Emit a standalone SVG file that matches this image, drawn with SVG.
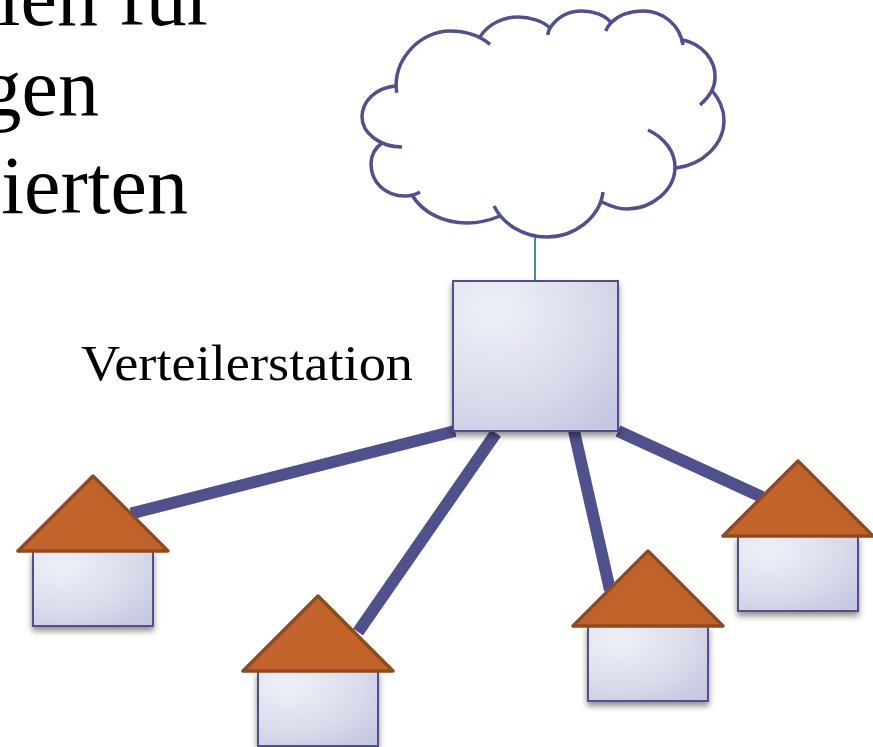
<svg xmlns="http://www.w3.org/2000/svg" width="873" height="747" viewBox="0 0 873 747">
<style>
.big{font-family:"Liberation Serif","Times New Roman",serif;font-size:82px;fill:#000;text-anchor:end}
.lbl{font-family:"Liberation Serif","Times New Roman",serif;font-size:50px;fill:#000}
.box{fill:url(#g);stroke:#50508c;stroke-width:2;filter:url(#s)}
.roof{fill:#c1632a;stroke:#8e4a20;stroke-width:3.5;stroke-linejoin:round}
.cloud{fill:none;stroke:#50508c;stroke-width:3.5}
.link{stroke:#50508c;stroke-width:12;fill:none}
</style>
<defs>
<radialGradient id="g" cx="0.25" cy="0.2" r="1">
<stop offset="0" stop-color="#eef0f8"/>
<stop offset="0.55" stop-color="#dcddec"/>
<stop offset="1" stop-color="#c6c7e1"/>
</radialGradient>
<filter id="s" x="-10%" y="-10%" width="125%" height="125%">
<feDropShadow dx="0" dy="4" stdDeviation="3" flood-color="#000" flood-opacity="0.45"/>
</filter>
</defs>
<rect width="873" height="747" fill="#fff"/>
<text class="big" x="214" y="25">len für</text>
<text class="big" x="99" y="115">gen</text>
<text class="big" x="188" y="213">ierten</text>
<g id="connectors">
<line x1="535" y1="236" x2="535" y2="281" stroke="#4a8f90" stroke-width="2"/>
<line class="link" x1="455" y1="431" x2="131" y2="513.5"/>
<line class="link" x1="496" y1="433" x2="358" y2="632"/>
<line class="link" x1="574" y1="431" x2="610" y2="590"/>
<line class="link" x1="618" y1="431" x2="762" y2="497"/>
</g>
<g id="cloud">
<path class="cloud" d="M396.7 92.7C392 60 420 31 450 31C465 31 480 36 490 44.3"/>
<path class="cloud" d="M480 36.7C489 23 504 17 518 17C530 17 543 21 550 28C549 30 548 32 547.700 35"/>
<path class="cloud" d="M550 28C558 16 570 11 582 11C593 11 605 15 611 22.700C609 25 607 28 605.700 31"/>
<path class="cloud" d="M611 22.700C620 14 632 11 643 11C663 11 680 25 683 45"/>
<path class="cloud" d="M683 40C702 44 716 60 715 78C715 88 708 98 700 105"/>
<path class="cloud" d="M711.700 90C720 100 724 110 724 120C724 145 702 165 676 168"/>
<path class="cloud" d="M648 130C665 138 675 152 675 167C675 190 652 209 627 209C618 209 610 206 602 202"/>
<path class="cloud" d="M603 192C600 217 575 237 547 237C523 237 503 224 494 206"/>
<path class="cloud" d="M500 216C488 221 478 223 467 223C443 223 422 212 412 195"/>
<path class="cloud" d="M420 192C415 195 408 196 405 196C385 196 371 182 371 164C371 156 375 148 382 143"/>
<path class="cloud" d="M402 147C380 147 362 133 362 117C362 101 376 88 395 86"/>
</g>
<g id="station">
<rect class="box" x="453" y="281" width="165" height="150"/>
<text class="lbl" x="81" y="380" textLength="332" lengthAdjust="spacingAndGlyphs">Verteilerstation</text>
</g>
<g id="house1">
<rect class="box" x="33" y="551" width="120" height="75"/>
<path class="roof" d="M93 476L18 551H168Z"/>
</g>
<g id="house2">
<rect class="box" x="258" y="671" width="120" height="75"/>
<path class="roof" d="M318 596L243 671H393Z"/>
</g>
<g id="house3">
<rect class="box" x="588" y="626" width="120" height="75"/>
<path class="roof" d="M648 551L573 626H723Z"/>
</g>
<g id="house4">
<rect class="box" x="738" y="536" width="120" height="75"/>
<path class="roof" d="M798 461L723 536H873Z"/>
</g>
</svg>
